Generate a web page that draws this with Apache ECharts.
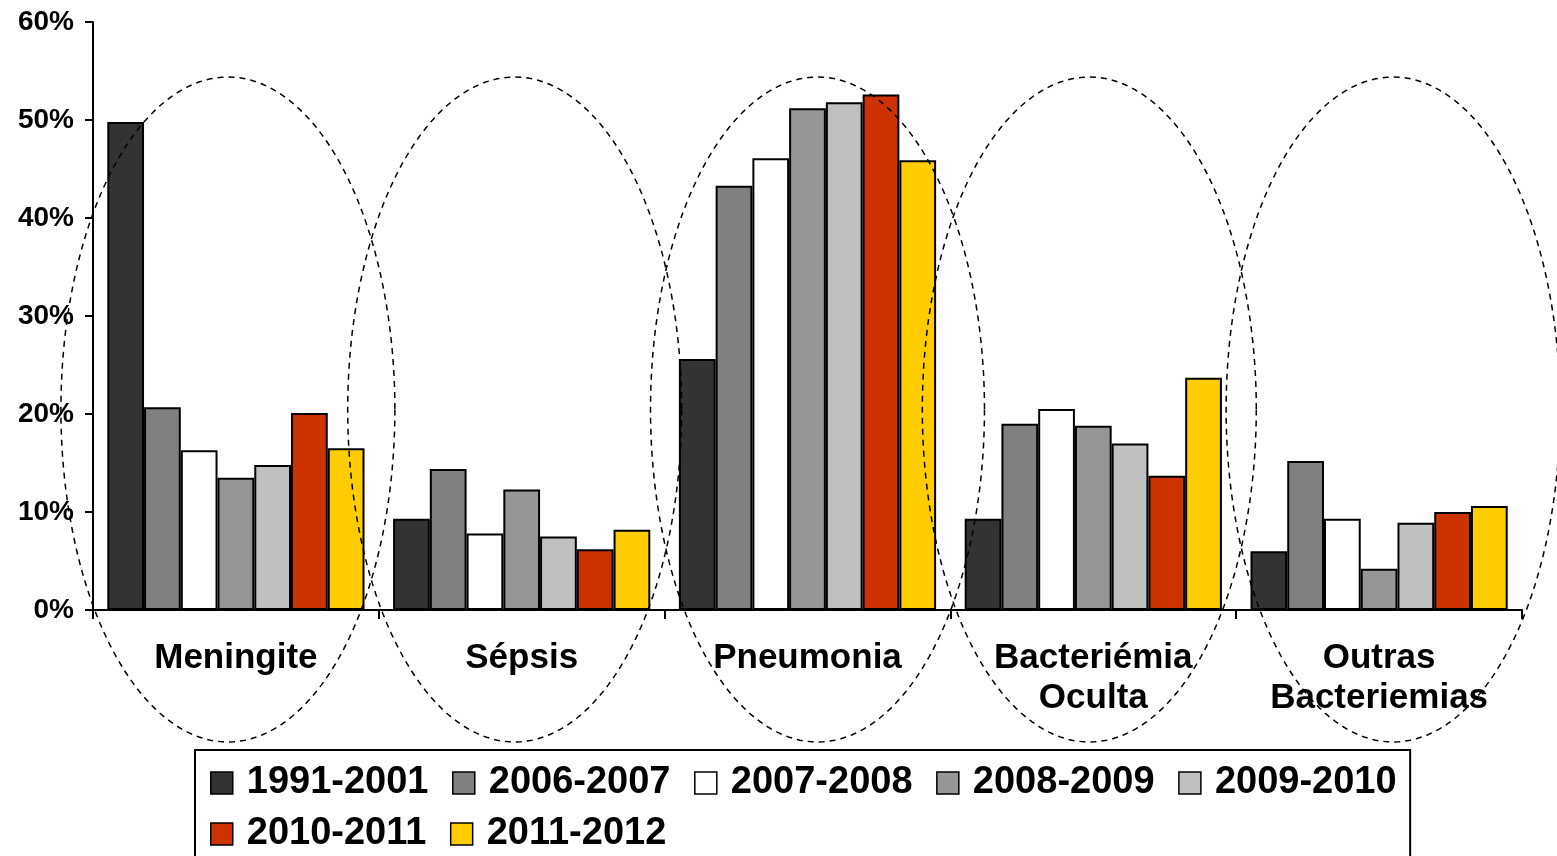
<!DOCTYPE html>
<html>
<head>
<meta charset="utf-8">
<script src="https://cdn.jsdelivr.net/npm/echarts@6/dist/echarts.min.js"></script>
<style>html,body{margin:0;padding:0;background:#fff}#c{width:1557px;height:856px}</style>
</head>
<body>
<div id="c"></div>
<script>
const categories = ['Meningite', 'Sépsis', 'Pneumonia', 'Bacteriémia\nOculta', 'Outras\nBacteriemias'];
const seriesNames = ['1991-2001', '2006-2007', '2007-2008', '2008-2009', '2009-2010', '2010-2011', '2011-2012'];
const s1991_2001 = [49.8, 9.3, 25.6, 9.3, 6.0];
const s2006_2007 = [20.7, 14.4, 43.3, 19.0, 15.2];
const s2007_2008 = [16.3, 7.8, 46.1, 20.5, 9.3];
const s2008_2009 = [13.5, 12.3, 51.2, 18.8, 4.2];
const s2009_2010 = [14.8, 7.5, 51.8, 17.0, 8.9];
const s2010_2011 = [20.1, 6.2, 52.6, 13.7, 10.0];
const s2011_2012 = [16.5, 8.2, 45.9, 23.7, 10.6];
const seriesValues = [s1991_2001, s2006_2007, s2007_2008, s2008_2009, s2009_2010, s2010_2011, s2011_2012];
const yTicks = [0, 10, 20, 30, 40, 50, 60];

const colors = ['#333333', '#808080', '#ffffff', '#969696', '#c0c0c0', '#cc3300', '#ffcc00'];
const FONT = '"Liberation Sans", Arial, sans-serif';

const chart = echarts.init(document.getElementById('c'));
chart.setOption({
  animation: false,
  backgroundColor: '#fff',
  grid: { left: 93, right: 35, top: 22, bottom: 246, containLabel: false },
  xAxis: {
    type: 'category',
    data: categories,
    axisLine: { lineStyle: { color: '#000', width: 2 } },
    axisTick: { show: true, alignWithLabel: false, length: 9, lineStyle: { color: '#000', width: 2 } },
    axisLabel: { color: '#000', fontFamily: FONT, fontWeight: 'bold', fontSize: 35, lineHeight: 40, margin: 28, interval: 0 }
  },
  yAxis: {
    type: 'value',
    min: yTicks[0], max: yTicks[yTicks.length - 1], interval: 10,
    axisLine: { show: true, lineStyle: { color: '#000', width: 2 } },
    axisTick: { show: true, length: 8, lineStyle: { color: '#000', width: 2 } },
    splitLine: { show: false },
    axisLabel: { color: '#000', fontFamily: FONT, fontWeight: 'bold', fontSize: 28, margin: 19, formatter: '{value}%' }
  },
  legend: {
    data: seriesNames,
    left: 195, top: 750, width: 1300,
    orient: 'horizontal',
    padding: [14, 3, 20, 15],
    borderColor: '#000', borderWidth: 2,
    itemWidth: 22, itemHeight: 22, itemGap: 13,
    icon: 'rect',
    itemStyle: { borderColor: '#000', borderWidth: 1.5 },
    formatter: name => name + ' ',
    textStyle: { color: '#000', fontFamily: FONT, fontWeight: 'bold', fontSize: 38, padding: [0, 0, 0, 9] }
  },
  series: seriesNames.map((n, i) => ({
    name: n,
    type: 'bar',
    data: seriesValues[i],
    barGap: '0%',
    barCategoryGap: '10%',
    itemStyle: { color: colors[i], borderColor: '#000', borderWidth: 2 }
  }))
});

// dashed ellipses around each category group
const ellipseShift = [-8, -7, 10, -4, 14];
function drawEllipses() {
  const els = [];
  const top = 77, bottom = 742;
  categories.forEach((c, i) => {
    const p = chart.convertToPixel({ xAxisIndex: 0, yAxisIndex: 0 }, [i, 0]);
    const cx = p[0] + ellipseShift[i];
    const cy = (top + bottom) / 2;
    const rx = 167, ry = (bottom - top) / 2;
    const pts = [];
    for (let k = 0; k < 180; k++) {
      const t = k / 180 * Math.PI * 2;
      pts.push([cx + rx * Math.cos(t), cy + ry * Math.sin(t)]);
    }
    els.push({
      type: 'polygon', silent: true, z: 100,
      shape: { points: pts },
      style: { fill: 'none', stroke: '#000', lineWidth: 1.5, lineDash: [6, 5] }
    });
  });
  chart.setOption({ graphic: els });
}
drawEllipses();
</script>
</body>
</html>
